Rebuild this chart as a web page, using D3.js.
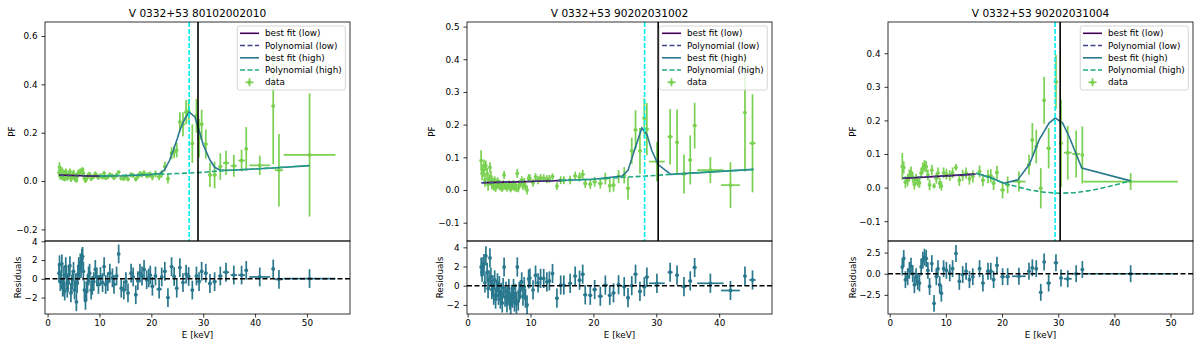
<!DOCTYPE html>
<html>
<head>
<meta charset="utf-8">
<script src="https://d3js.org/d3.v7.min.js"></script>
<style>
  body { margin: 0; background: #fff; }
  text { font-family: "DejaVu Sans", sans-serif; fill: #000; }
</style>
</head>
<body>
<div id="chart"></div>
<script>
// ---- data: [E keV, dE, PF, dPF, residual] ----
var obs1Points = [
  [2.2,.08,.035,.015,0.6],[2.3,.08,.058,.02,1.5],[2.45,.08,.02,.015,-0.3],[2.6,.08,.024,.012,-0.1],
  [2.75,.08,.045,.012,1.6],[2.9,.08,.014,.012,-0.9],[3.0,.08,.015,.012,-0.8],[3.15,.08,.03,.012,0.4],
  [3.3,.08,.01,.012,-1.3],[3.5,.08,.04,.012,1.3],[3.65,.08,.027,.012,0.2],[3.8,.08,.013,.012,-1.0],
  [3.95,.08,.02,.012,-0.4],[4.1,.08,.03,.012,0.4],[4.3,.1,.04,.012,1.4],[4.5,.1,.008,.012,-1.5],
  [4.65,.1,.018,.012,-0.6],[4.8,.1,.024,.012,-0.1],[5.0,.1,.034,.012,0.8],[5.2,.1,.011,.012,-1.2],
  [5.4,.1,.02,.012,-0.4],[5.55,.1,.003,.01,-2.45],[5.7,.1,.019,.012,-0.5],[5.85,.1,.03,.012,0.5],
  [6.0,.1,.038,.01,1.3],[6.15,.1,.035,.01,0.9],[6.3,.1,.042,.01,1.7],[6.45,.1,.036,.01,1.1],
  [6.6,.1,.045,.01,2.2],[6.75,.1,.047,.01,2.4],[6.9,.1,.032,.01,0.8],[7.1,.1,.012,.01,-1.2],
  [7.3,.1,.002,.01,-2.3],[7.5,.1,.011,.01,-1.3],[7.7,.1,.018,.01,-0.5],[7.9,.1,.026,.01,0.3],
  [8.1,.12,.028,.01,0.6],[8.4,.12,.01,.01,-1.2],[8.6,.12,.015,.01,-0.7],[8.9,.12,.019,.01,-0.3],
  [9.2,.12,.03,.01,1.0],[9.5,.12,.022,.01,0.2],[9.8,.15,.015,.01,-0.6],[10.2,.15,.022,.01,0.25],
  [10.6,.15,.016,.01,-0.4],[10.9,.15,.032,.01,1.3],[11.2,.15,.014,.01,-0.6],[11.6,.18,.017,.01,-0.3],
  [12.0,.18,.026,.01,0.6],[12.5,.18,.021,.01,0.1],[12.8,.18,.014,.01,-0.6],[13.3,.2,.024,.01,0.3],
  [13.7,.2,.037,.006,2.65],[14.2,.2,.012,.01,-1.0],[14.7,.2,.01,.01,-1.2],[15.1,.2,.019,.01,-0.3],
  [15.5,.25,.008,.01,-1.5],[16.1,.25,.026,.01,0.6],[16.5,.25,.023,.01,0.2],[17.0,.3,.008,.01,-1.7],
  [17.4,.25,.02,.012,-0.2],[17.8,.25,.03,.012,0.6],[18.2,.25,.027,.012,0.3],[18.6,.25,.033,.012,1.0],
  [19.1,.25,.023,.012,-0.1],[19.5,.25,.025,.012,0.1],[19.8,.25,.028,.012,0.4],[20.2,.3,.017,.014,-0.8],
  [20.8,.3,.03,.014,0.3],[21.5,.5,.018,.015,-1.1],[22.0,.3,.03,.015,0.2],[22.6,.3,.06,.02,0.8],
  [23.2,.3,.01,.02,-2.0],[23.9,.3,.115,.025,1.3],[24.4,.25,.12,.025,0.25],[24.9,.25,.128,.03,-1.0],
  [25.5,.25,.245,.04,1.2],[26.1,.25,.235,.05,-0.4],[26.7,.25,.285,.05,0.5],[27.2,.25,.29,.05,0.25],
  [27.9,.3,.155,.08,-1.2],[28.7,.3,.27,.07,0.3],[29.2,.3,.177,.08,-0.3],[29.7,.3,.235,.06,0.8],
  [30.5,.35,.153,.06,0.6],[31.3,.35,.025,.05,-0.5],[32.2,.4,.025,.055,-0.3],[33.3,.4,.06,.055,0.3],
  [34.4,.6,.075,.05,0.7],[35.9,.6,.063,.045,0.4],[37.4,.65,.085,.045,0.4],[38.3,.3,.133,.09,0.9],
  [40.9,2.0,.065,.04,0.2],[43.5,.3,.31,.24,1.05],[44.6,.8,.045,.15,-0.05],[50.5,5.0,.108,.255,0.03]
];
var obs2Points = [
  [2.15,.08,.09,.032,1.95],[2.3,.08,.051,.02,1.4],[2.45,.08,.06,.02,2.0],[2.6,.08,.071,.022,2.3],
  [2.75,.08,.03,.02,0.3],[2.9,.08,.074,.016,3.1],[3.1,.08,.05,.018,1.4],[3.25,.08,.018,.02,-0.3],
  [3.4,.08,.033,.015,0.6],[3.55,.08,.069,.016,2.9],[3.7,.08,.04,.018,0.9],[3.85,.08,.017,.015,-0.4],
  [4.0,.1,.025,.013,0.1],[4.15,.1,.01,.012,-1.0],[4.3,.1,.03,.012,0.6],[4.45,.1,.006,.012,-1.4],
  [4.6,.1,.018,.012,-0.4],[4.75,.1,.027,.012,0.3],[4.9,.1,.012,.01,-1.0],[5.05,.1,.022,.01,0.0],
  [5.2,.1,.008,.01,-1.4],[5.35,.1,.015,.01,-0.7],[5.5,.1,.004,.01,-1.8],[5.65,.1,.02,.01,-0.2],
  [5.8,.1,.046,.012,1.95],[5.95,.1,.01,.01,-1.2],[6.1,.1,.016,.01,-0.6],[6.25,.1,.005,.01,-1.8],
  [6.4,.1,.012,.01,-1.1],[6.55,.1,.02,.01,-0.3],[6.7,.1,.008,.01,-1.5],[6.85,.1,.003,.01,-2.0],
  [7.0,.1,.014,.01,-0.9],[7.15,.1,.01,.01,-1.3],[7.3,.1,.021,.01,-0.3],[7.45,.1,.006,.01,-1.7],
  [7.6,.1,.015,.01,-0.8],[7.75,.1,.004,.01,-1.9],[7.9,.1,.051,.014,1.95],[8.05,.1,.005,.012,-1.6],
  [8.2,.1,.018,.012,-0.6],[8.4,.12,.02,.012,-0.4],[8.6,.12,.03,.012,0.4],[8.8,.12,.012,.012,-1.1],
  [9.0,.12,.025,.012,-0.1],[9.2,.12,.01,.012,-1.3],[9.45,.12,.0,.014,-2.0],[9.7,.12,.036,.012,0.7],
  [9.9,.15,.036,.012,0.8],[10.4,.15,.022,.012,-0.44],[10.8,.15,.04,.012,1.1],[11.2,.15,.03,.012,0.3],
  [11.6,.18,.037,.012,0.76],[12.1,.18,.036,.012,0.76],[12.6,.2,.033,.012,0.4],[13.0,.2,.034,.012,0.5],
  [13.5,.2,.041,.01,1.27],[14.2,.25,.012,.012,-1.3],[14.8,.25,.03,.012,0.07],[15.3,.25,.03,.012,0.07],
  [16.3,.3,.031,.013,0.25],[17.1,.3,.043,.013,1.0],[17.8,.3,.04,.014,0.58],[18.3,.3,.048,.014,1.2],
  [18.7,.3,.02,.014,-0.95],[19.5,.3,.018,.015,-1.0],[20.2,.35,.025,.015,-0.4],[21.1,.4,.02,.016,-1.1],
  [21.9,.4,.035,.018,0.07],[22.6,.3,.013,.02,-1.0],[23.2,.3,.015,.02,-0.75],[24.0,.3,.041,.02,0.1],
  [24.9,.3,.045,.025,-0.1],[25.5,.3,.005,.035,-1.25],[26.1,.3,.12,.04,0.0],[26.7,.3,.184,.06,1.2],
  [27.4,.3,.12,.07,-0.6],[28.1,.3,.22,.06,-0.1],[28.5,.3,.186,.08,0.9],[30.1,1.25,.087,.06,0.25],
  [32.2,.4,.163,.085,1.4],[33.3,.3,.146,.1,1.1],[34.4,.4,.049,.06,-0.1],[35.4,.3,.092,.075,0.5],
  [36.1,.3,.197,.07,1.9],[38.6,2.1,.061,.04,0.25],[41.8,1.5,.015,.07,-0.5],[44.1,.2,.237,.18,1.0],
  [45.3,.5,.143,.15,0.6]
];
var obs3Points = [
  [2.25,.08,.063,.04,0.8],[2.5,.08,.06,.018,1.8],[2.8,.08,.016,.018,-0.7],[3.2,.1,.022,.018,-0.35],
  [3.5,.1,.036,.018,0.4],[3.8,.1,.045,.018,0.9],[4.1,.1,.03,.016,0.0],[4.4,.1,.01,.016,-1.3],
  [4.7,.1,.025,.016,-0.35],[5.0,.1,.018,.015,-0.9],[5.3,.1,.014,.015,-1.1],[5.6,.1,.043,.016,0.8],
  [5.9,.1,.058,.017,1.6],[6.2,.1,.065,.017,1.96],[6.5,.1,.062,.017,1.8],[6.8,.1,.038,.016,0.4],
  [7.1,.1,.008,.016,-1.5],[7.5,.12,.052,.016,1.2],[7.9,.12,.005,.008,-3.5],[8.3,.12,.028,.016,-0.35],
  [8.6,.12,.044,.016,0.6],[8.9,.12,.013,.016,-1.3],[9.2,.12,.005,.014,-2.3],[9.6,.15,.044,.016,0.6],
  [10.1,.15,.04,.016,0.4],[10.7,.15,.036,.016,0.1],[11.2,.15,.044,.016,0.6],[11.8,.15,.06,.01,2.4],
  [12.4,.2,.022,.017,-0.9],[13.0,.2,.036,.017,-0.1],[13.6,.2,.043,.017,0.3],[14.2,.2,.026,.017,-0.7],
  [14.8,.25,.033,.018,-0.35],[16.0,.3,.048,.018,0.6],[16.6,.3,.022,.018,-1.1],[17.5,.3,.033,.02,0.3],
  [18.0,.3,.035,.02,0.3],[18.5,.3,.013,.02,-0.7],[19.1,.3,.045,.02,1.0],[20.1,.4,-.007,.025,-0.35],
  [21.0,.4,.008,.025,-0.35],[23.0,1.2,.018,.03,-0.3],[24.8,.3,.068,.03,0.3],[25.4,.3,.142,.05,0.7],
  [26.1,.3,.122,.05,0.6],[26.9,.2,-.002,.06,-2.2],[27.5,.2,.26,.07,1.4],[28.3,.4,.117,.06,-1.1],
  [29.6,.4,.315,.08,1.3],[30.5,.3,.132,.13,-0.5],[31.7,.7,.104,.08,-0.6],[33.2,.7,.1,.07,0.0],
  [34.3,.2,.097,.085,0.5],[42.9,8.4,.018,.025,0.0]
];

// ---- fitted curves: energies and PF ----
var fit1LowE = [2.2, 5, 8, 11],            fit1LowPF = [0.025, 0.023, 0.021, 0.021];
var poly1LowE = [2.2, 11],                 poly1LowPF = [0.024, 0.021];
var fit1HighE = [10, 15, 20, 21.5, 22.5, 23.5, 24.2, 25, 25.5, 26.5, 27.3, 28.4, 29.2, 30, 31.3, 32.2, 33.2, 35, 40, 45, 50.5];
var fit1HighPF = [0.021, 0.022, 0.027, 0.03, 0.045, 0.085, 0.125, 0.175, 0.21, 0.26, 0.285, 0.265, 0.21, 0.15, 0.087, 0.057, 0.046, 0.045, 0.05, 0.056, 0.064];
var poly1HighE = [10, 20, 25, 30, 33, 40, 50.5],  poly1HighPF = [0.021, 0.027, 0.031, 0.036, 0.042, 0.05, 0.064];

var fit2LowE = [2.2, 6, 10, 14.8],         fit2LowPF = [0.022, 0.024, 0.026, 0.029];
var poly2LowE = [2.2, 14.8],               poly2LowPF = [0.022, 0.029];
var fit2HighE = [14.8, 20, 24.6, 25.5, 26.5, 27.7, 28.5, 29.3, 30.3, 32.3, 45.5];
var fit2HighPF = [0.029, 0.033, 0.043, 0.06, 0.12, 0.19, 0.17, 0.12, 0.078, 0.048, 0.063];
var poly2HighE = [14.8, 20, 25, 30.3, 32.3, 45.5], poly2HighPF = [0.029, 0.033, 0.039, 0.045, 0.048, 0.063];

var fit3LowE = [2.3, 6, 10, 15.3],         fit3LowPF = [0.028, 0.031, 0.035, 0.04];
var poly3LowE = [2.3, 15.3],               poly3LowPF = [0.028, 0.04];
var fit3HighE = [15.4, 18, 20.3, 22.8, 24.9, 26.6, 28.4, 29.5, 30.8, 32, 34.2, 42.9];
var fit3HighPF = [0.043, 0.03, 0.013, 0.023, 0.07, 0.142, 0.193, 0.207, 0.192, 0.15, 0.058, 0.02];
var poly3HighE = [15.4, 18, 20.3, 22.8, 25, 27.5, 30.2, 33, 36, 39, 42.9];
var poly3HighPF = [0.043, 0.028, 0.013, 0.002, -0.007, -0.014, -0.017, -0.015, -0.008, 0.003, 0.02];

// cyclotron line energies: [cyan dashed, black solid]
var vlines1 = [27.3, 29.0], vlines2 = [28.15, 30.3], vlines3 = [29.45, 30.35];

var titles = ["V 0332+53 80102002010", "V 0332+53 90202031002", "V 0332+53 90202031004"];
var legendLabels = ["best fit (low)", "Polynomial (low)", "best fit (high)", "Polynomial (high)", "data"];

// ticks
var xTicks1 = [0, 10, 20, 30, 40, 50], xTicks2 = [0, 10, 20, 30, 40], xTicks3 = [0, 10, 20, 30, 40, 50];
var yTicks1 = [-0.2, 0, 0.2, 0.4, 0.6], yTicks2 = [-0.1, 0, 0.1, 0.2, 0.3, 0.4, 0.5], yTicks3 = [-0.1, 0, 0.1, 0.2, 0.3, 0.4];
var rTicks1 = [-2, 0, 2, 4], rTicks2 = [-2, 0, 2, 4], rTicks3 = [-2.5, 0, 2.5];

// ---- layout / styles ----
var W = 1200, H = 345;
var pw = 305, top0 = 22, mainH = 219, resH = 73;
var colLowFit = "#440154", colPolyLow = "#414487", colHighFit = "#2a788e",
    colPolyHigh = "#22a884", colData = "#7ad151", colRes = "#2a788e";
var barW = 1.7, dotR = 1.9;

var panels = [
  {left: 45, pts: obs1Points, title: titles[0], xd: [-0.5, 58.3], yd: [-0.248, 0.658], rd: [-3.75, 4.03],
   xt: xTicks1, yt: yTicks1, rt: rTicks1, rfmt: "d", pfOff: 33.3, resOff: 26.7,
   lowE: fit1LowE, lowPF: fit1LowPF, plE: poly1LowE, plPF: poly1LowPF,
   hiE: fit1HighE, hiPF: fit1HighPF, phE: poly1HighE, phPF: poly1HighPF, vl: vlines1},
  {left: 467, pts: obs2Points, title: titles[1], xd: [-0.1, 48.4], yd: [-0.156, 0.514], rd: [-2.95, 4.66],
   xt: xTicks2, yt: yTicks2, rt: rTicks2, rfmt: "d", pfOff: 35.3, resOff: 27.3,
   lowE: fit2LowE, lowPF: fit2LowPF, plE: poly2LowE, plPF: poly2LowPF,
   hiE: fit2HighE, hiPF: fit2HighPF, phE: poly2HighE, phPF: poly2HighPF, vl: vlines2},
  {left: 888, pts: obs3Points, title: titles[2], xd: [-0.3, 54.0], yd: [-0.159, 0.493], rd: [-4.76, 3.87],
   xt: xTicks3, yt: yTicks3, rt: rTicks3, rfmt: ".1f", pfOff: 34.7, resOff: 34.7,
   lowE: fit3LowE, lowPF: fit3LowPF, plE: poly3LowE, plPF: poly3LowPF,
   hiE: fit3HighE, hiPF: fit3HighPF, phE: poly3HighE, phPF: poly3HighPF, vl: vlines3}
];

var svg = d3.select("#chart").append("svg")
  .attr("width", W).attr("height", H);

function drawPanel(p, k) {
  var g = svg.append("g").attr("transform", "translate(" + p.left + "," + top0 + ")");
  var x = d3.scaleLinear().domain(p.xd).range([0, pw]);
  var y = d3.scaleLinear().domain(p.yd).range([mainH, 0]);
  var yr = d3.scaleLinear().domain(p.rd).range([mainH + resH, mainH]);

  var defs = svg.append("defs");
  defs.append("clipPath").attr("id", "cm" + k).append("rect").attr("width", pw).attr("height", mainH);
  defs.append("clipPath").attr("id", "cr" + k).append("rect").attr("y", mainH).attr("width", pw).attr("height", resH);

  var gm = g.append("g").attr("clip-path", "url(#cm" + k + ")");
  var gr = g.append("g").attr("clip-path", "url(#cr" + k + ")");

  // data points with error bars
  var pts = gm.selectAll(".pt").data(p.pts).enter().append("g");
  pts.append("line")
    .attr("x1", function(d) { return x(d[0] - d[1]); }).attr("x2", function(d) { return x(d[0] + d[1]); })
    .attr("y1", function(d) { return y(d[2]); }).attr("y2", function(d) { return y(d[2]); })
    .attr("stroke", colData).attr("stroke-width", barW);
  pts.append("line")
    .attr("x1", function(d) { return x(d[0]); }).attr("x2", function(d) { return x(d[0]); })
    .attr("y1", function(d) { return y(d[2] - d[3]); }).attr("y2", function(d) { return y(d[2] + d[3]); })
    .attr("stroke", colData).attr("stroke-width", barW);
  pts.append("circle")
    .attr("cx", function(d) { return x(d[0]); }).attr("cy", function(d) { return y(d[2]); })
    .attr("r", dotR).attr("fill", colData);

  // fit curves
  function curve(es, vs, col, dash) {
    var line = d3.line().x(function(d) { return x(d[0]); }).y(function(d) { return y(d[1]); });
    gm.append("path").datum(d3.zip(es, vs))
      .attr("d", line).attr("fill", "none").attr("stroke", col).attr("stroke-width", 1.6)
      .attr("stroke-dasharray", dash ? "5,2.5" : null);
  }
  curve(p.lowE, p.lowPF, colLowFit, false);
  curve(p.plE, p.plPF, colPolyLow, true);
  curve(p.hiE, p.hiPF, colHighFit, false);
  curve(p.phE, p.phPF, colPolyHigh, true);

  // vertical lines
  gm.append("line").attr("x1", x(p.vl[0])).attr("x2", x(p.vl[0])).attr("y1", 0).attr("y2", mainH)
    .attr("stroke", "#00f0f0").attr("stroke-width", 1.6).attr("stroke-dasharray", "5,2");
  gm.append("line").attr("x1", x(p.vl[1])).attr("x2", x(p.vl[1])).attr("y1", 0).attr("y2", mainH)
    .attr("stroke", "#000").attr("stroke-width", 1.6);

  // residuals
  var rp = gr.selectAll(".rp").data(p.pts).enter().append("g");
  rp.append("line")
    .attr("x1", function(d) { return x(d[0] - d[1]); }).attr("x2", function(d) { return x(d[0] + d[1]); })
    .attr("y1", function(d) { return yr(d[4]); }).attr("y2", function(d) { return yr(d[4]); })
    .attr("stroke", colRes).attr("stroke-width", barW);
  rp.append("line")
    .attr("x1", function(d) { return x(d[0]); }).attr("x2", function(d) { return x(d[0]); })
    .attr("y1", function(d) { return yr(d[4] - 1); }).attr("y2", function(d) { return yr(d[4] + 1); })
    .attr("stroke", colRes).attr("stroke-width", barW);
  rp.append("circle")
    .attr("cx", function(d) { return x(d[0]); }).attr("cy", function(d) { return yr(d[4]); })
    .attr("r", dotR).attr("fill", colRes);
  gr.append("line").attr("x1", 0).attr("x2", pw).attr("y1", yr(0)).attr("y2", yr(0))
    .attr("stroke", "#000").attr("stroke-width", 1.6).attr("stroke-dasharray", "5,2.5");

  // axes
  var fs = "8.8px";
  var ay = g.append("g").call(d3.axisLeft(y).tickValues(p.yt).tickFormat(d3.format(".1f")).tickSize(3.5).tickPadding(4));
  var ar = g.append("g").call(d3.axisLeft(yr).tickValues(p.rt).tickFormat(d3.format(p.rfmt)).tickSize(3.5).tickPadding(4));
  var ax = g.append("g").attr("transform", "translate(0," + (mainH + resH) + ")")
    .call(d3.axisBottom(x).tickValues(p.xt).tickFormat(d3.format("d")).tickSize(3.5).tickPadding(2.5));
  [ay, ar, ax].forEach(function(a) {
    a.select(".domain").remove();
    a.selectAll("text").style("font-size", fs).style("font-family", "DejaVu Sans");
    a.selectAll("line").attr("stroke", "#000").attr("stroke-width", 0.8);
  });

  // frames
  g.append("rect").attr("width", pw).attr("height", mainH)
    .attr("fill", "none").attr("stroke", "#000").attr("stroke-width", 0.8);
  g.append("rect").attr("y", mainH).attr("width", pw).attr("height", resH)
    .attr("fill", "none").attr("stroke", "#000").attr("stroke-width", 0.8);

  // labels
  g.append("text").attr("x", pw / 2).attr("y", -5.5).attr("text-anchor", "middle")
    .style("font-size", "10.6px").text(p.title);
  g.append("text").attr("x", pw / 2).attr("y", mainH + resH + 23.5).attr("text-anchor", "middle")
    .style("font-size", fs).text("E [keV]");
  g.append("text").attr("transform", "translate(" + (-p.pfOff) + "," + (mainH / 2) + ") rotate(-90)")
    .attr("dy", "0.35em").attr("text-anchor", "middle").style("font-size", fs).text("PF");
  g.append("text").attr("transform", "translate(" + (-p.resOff) + "," + (mainH + resH / 2) + ") rotate(-90)")
    .attr("dy", "0.35em").attr("text-anchor", "middle").style("font-size", fs).text("Residuals");

  // legend
  var lg = g.append("g").attr("transform", "translate(" + (pw - 112.7) + ",4)");
  lg.append("rect").attr("width", 108).attr("height", 64).attr("rx", 2)
    .attr("fill", "#fff").attr("fill-opacity", 0.8).attr("stroke", "#cccccc").attr("stroke-width", 0.8);
  var lcols = [colLowFit, colPolyLow, colHighFit, colPolyHigh];
  legendLabels.forEach(function(lab, i) {
    var cy = 7.3 + i * 12.25;
    if (i < 4) {
      lg.append("line").attr("x1", 2.7).attr("x2", 21.7).attr("y1", cy).attr("y2", cy)
        .attr("stroke", lcols[i]).attr("stroke-width", 1.6)
        .attr("stroke-dasharray", (i % 2 === 1) ? "5,2.5" : null);
    } else {
      lg.append("line").attr("x1", 8.2).attr("x2", 16.2).attr("y1", cy).attr("y2", cy)
        .attr("stroke", colData).attr("stroke-width", barW);
      lg.append("line").attr("x1", 12.2).attr("x2", 12.2).attr("y1", cy - 4).attr("y2", cy + 4)
        .attr("stroke", colData).attr("stroke-width", barW);
      lg.append("circle").attr("cx", 12.2).attr("cy", cy).attr("r", dotR).attr("fill", colData);
    }
    lg.append("text").attr("x", 27.7).attr("y", cy).attr("dy", "0.35em")
      .style("font-size", fs).text(lab);
  });
}

panels.forEach(drawPanel);
</script>
</body>
</html>
